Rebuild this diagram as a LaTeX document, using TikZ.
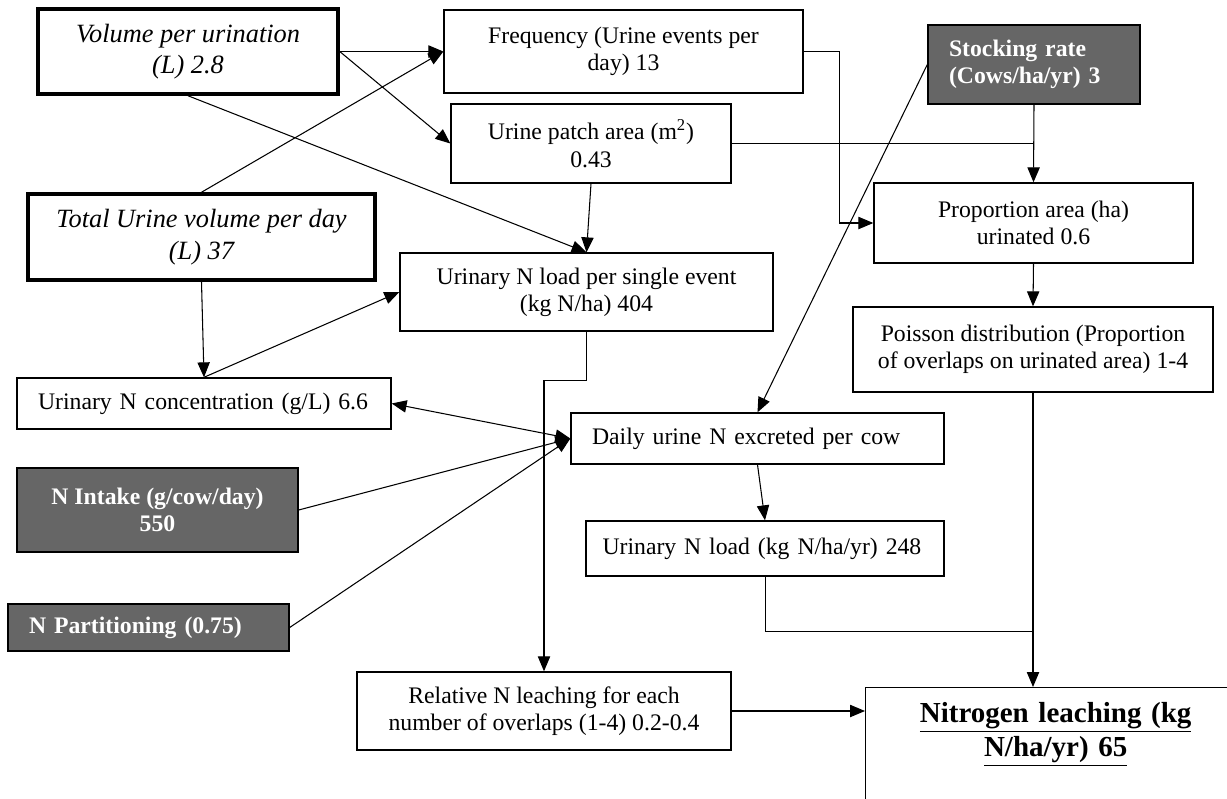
\documentclass[tikz,border=0pt]{standalone}
\usepackage{fontspec}
\setmainfont{Liberation Serif}
\usepackage{tikz}
\usetikzlibrary{arrows.meta}
\definecolor{boxgrey}{HTML}{666666}
\newcommand{\boxfont}{\fontsize{13.5}{15.5}\selectfont}
\newcommand{\boxitfont}{\fontsize{15}{18}\selectfont\itshape}
\newcommand{\boxbffont}{\fontsize{13.5}{15.5}\selectfont\bfseries}
\newcommand{\leachfont}{\fontsize{16.5}{19}\selectfont\bfseries}
\tikzset{
	box/.style={draw, line width=0.8pt, inner sep=0pt, align=center, font=\boxfont},
	volbox/.style={box, line width=2pt, font=\boxitfont},
	inbox/.style={box, fill=boxgrey, text=white, font=\boxbffont},
	leftbox/.style={align=left, inner xsep=0.42cm}
}

\begin{document}
\begin{tikzpicture}[
	x=0.02cm, y=-0.02cm,
	arr/.style={-{Triangle[length=8.5pt,width=7pt]}, line width=0.6pt},
	twoarr/.style={{Triangle[length=8.5pt,width=7pt]}-{Triangle[length=8.5pt,width=7pt]}, line width=0.6pt}
]
\useasboundingbox (0,0) rectangle (1227,798);
\clip (0,0) rectangle (1227,798);
\node[volbox, minimum width=6cm, minimum height=1.7cm] (vol) at (188,51.5) {Volume per urination\\(L) 2.8};
\node[volbox, minimum width=6.94cm, minimum height=1.72cm] (total) at (201.5,237) {Total Urine volume per day\\(L) 37};
\node[box, minimum width=7.18cm, minimum height=1.66cm] (freq) at (623.5,51.5) {Frequency (Urine events per\\day) 13};
\node[box, minimum width=5.6cm, minimum height=1.58cm] (patch) at (591,143.5) {Urine patch area (m\textsuperscript{2})\\0.43};
\node[box, minimum width=7.46cm, minimum height=1.56cm] (single) at (586.5,292) {Urinary N load per single event\\(kg N/ha) 404};
\node[inbox, leftbox, text width=3.4cm, minimum height=1.58cm] (stock) at (1034,64.5) {Stocking rate\\(Cows/ha/yr) 3};
\node[box, minimum width=6.38cm, minimum height=1.6cm] (prop) at (1033.5,223) {Proportion area (ha)\\urinated 0.6};
\node[box, minimum width=7.2cm, minimum height=1.7cm] (poisson) at (1033,349.5) {Poisson distribution (Proportion\\of overlaps on urinated area) 1-4};
\node[box, leftbox, text width=6.64cm, minimum height=1.02cm] (conc) at (204,403.5) {Urinary N concentration (g/L) 6.6};
\node[box, leftbox, text width=6.62cm, minimum height=1.02cm] (daily) at (757.5,438.5) {Daily urine N excreted per cow};
\node[inbox, minimum width=5.62cm, minimum height=1.68cm] (intake) at (157.5,510) {N Intake (g/cow/day)\\550};
\node[box, leftbox, inner xsep=0.33cm, text width=6.5cm, minimum height=1.1cm] (load) at (765,548.5) {Urinary N load (kg N/ha/yr) 248};
\node[inbox, leftbox, text width=4.78cm, minimum height=0.94cm] (part) at (148.5,627.5) {N Partitioning (0.75)};
\node[box, minimum width=7.48cm, minimum height=1.56cm] (rel) at (544,711) {Relative N leaching for each\\number of overlaps (1-4) 0.2-0.4};
\node[box, font=\leachfont, anchor=north west, text width=7.2cm, inner xsep=0.2cm, inner ysep=0.3cm, text depth=2.6cm] (nleach) at (865,687) {\underline{Nitrogen leaching (kg}\\\underline{N/ha/yr) 65}};
\coordinate (join) at (1033,631);

\draw[arr] (vol.east) -- (freq.west);
\draw[arr] (total.north) -- (freq.west);
\draw[arr] (vol.east) -- (patch.west);
\draw[arr] (vol.south) -- (single.north);
\draw[arr] (patch.south) -- (single.north);
\draw[arr] (total.south) -- (conc.north);
\draw[arr] (conc.north) -- (single.west);
\draw[arr] (single.south) -- ++(0,49) -| (rel.north);
\draw[arr] (freq.east) -- ++(36,0) |- (prop.west);
\draw (patch.east) -- (patch.east -| stock.south);
\draw[arr] (stock.south) -- (prop.north);
\draw[arr] (stock.west) -- (daily.north);
\draw[arr] (prop.south) -- (poisson.north);
\draw[arr] (poisson.south) -- (poisson.south |- nleach.north);
\draw (load.south) |- (join);
\draw[arr] (rel.east) -- (rel.east -| nleach.west);
\draw[twoarr] (conc.east) -- (daily.west);
\draw[arr] (intake.east) -- (daily.west);
\draw[arr] (part.east) -- (daily.west);
\draw[arr] (daily.south) -- (load.north);
\end{tikzpicture}
\end{document}
